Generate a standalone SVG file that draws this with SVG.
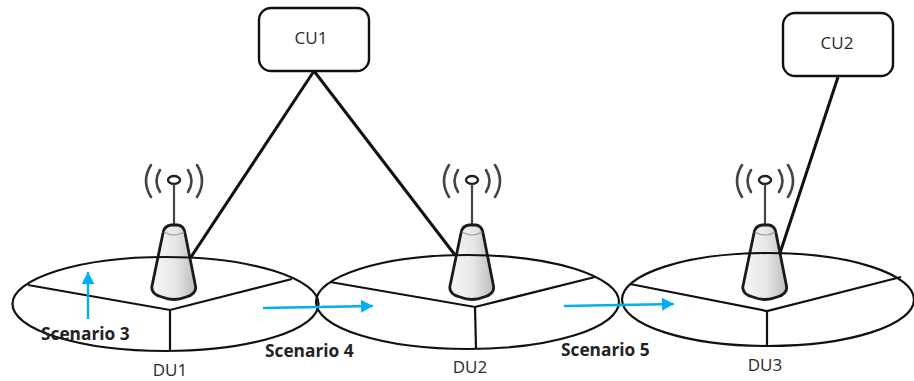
<svg xmlns="http://www.w3.org/2000/svg" width="914" height="381" viewBox="0 0 914 381">
<style>
.box{fill:#fff;stroke:#111;stroke-width:2.4}
.cell{fill:none;stroke:#111;stroke-width:2.2}
.link{fill:none;stroke:#111;stroke-width:3}
.flow{fill:none;stroke:#00b0f0;stroke-width:2.4;marker-end:url(#ah)}
.lab{font-family:"Open Sans","Liberation Sans",sans-serif;font-size:17px;fill:#2a2a2a;text-anchor:middle}
.sc{font-family:"Open Sans","Liberation Sans",sans-serif;font-size:17.300px;font-weight:700;fill:#222}
.wave{fill:none;stroke:#444;stroke-width:2.6;stroke-linecap:round}
</style>
<defs>
<linearGradient id="g" x1="0" x2="1" y1="0" y2="0"><stop offset="0" stop-color="#f6f6f6"/><stop offset=".55" stop-color="#e6e6e6"/><stop offset="1" stop-color="#bcbcbc"/></linearGradient>
<marker id="ah" markerUnits="userSpaceOnUse" markerWidth="13" markerHeight="14" refX="12" refY="6.500" orient="auto"><path d="M0 0L12 6.500L0 13Z" fill="#00b0f0"/></marker>
<g id="tower">
<path class="wave" d="M-14 -26Q-21 -15 -14 -4M-23 -31Q-33 -15 -23 1M14 -26Q21 -15 14 -4M23 -31Q33 -15 23 1"/>
<ellipse cx="0" cy="-16" rx="6" ry="4" fill="#fff" stroke="#222" stroke-width="2.400"/>
<path d="M0 -12V29" stroke="#444" stroke-width="2.200" fill="none"/>
<path d="M-11 37Q-10 30 -3 29H4Q10 30 11 37L21.500 90Q23 98 12 101Q0 106 -12 101Q-23.500 98 -22 90Z" fill="url(#g)" stroke="#1a1a1a" stroke-width="2.800"/>
<path d="M-10 36Q0 42 10 36" fill="none" stroke="#999" stroke-width="1.200"/>
</g>
</defs>
<rect width="914" height="381" fill="#fff"/>
<g id="connectors">
<path class="link" d="M314 71L191 257"/>
<path class="link" d="M314 71L455 255"/>
<path class="link" d="M838 77L780 253"/>
</g>
<g id="DU1">
<use href="#tower" x="174" y="196"/>
<ellipse class="cell" cx="165.500" cy="304" rx="153" ry="47"/>
<path class="cell" d="M28 285L170 310L292 279M170 310V351"/>
<text class="lab" x="170" y="376">DU1</text>
</g>
<g id="DU2">
<use href="#tower" x="472" y="196"/>
<ellipse class="cell" cx="467.500" cy="302" rx="151.500" ry="47"/>
<path class="cell" d="M330 282L475 307L595 277M475 307L476 348"/>
<text class="lab" x="470" y="373">DU2</text>
</g>
<g id="DU3">
<use href="#tower" x="765" y="196"/>
<ellipse class="cell" cx="768" cy="299.500" rx="146" ry="46.500"/>
<path class="cell" d="M630 284L767 311L901 277M767 311V345"/>
<text class="lab" x="765" y="371">DU3</text>
</g>
<g id="CU1">
<rect class="box" x="259" y="8" width="110" height="63" rx="12"/>
<text class="lab" x="311" y="44">CU1</text>
</g>
<g id="CU2">
<rect class="box" x="783" y="13" width="110" height="63" rx="12"/>
<text class="lab" x="837" y="49">CU2</text>
</g>
<g id="scenario3">
<path class="flow" d="M88 319V272"/>
<text class="sc" x="41" y="340">Scenario 3</text>
</g>
<g id="scenario4">
<path class="flow" d="M263 308L373 306"/>
<text class="sc" x="265" y="357">Scenario 4</text>
</g>
<g id="scenario5">
<path class="flow" d="M564 306L674 304"/>
<text class="sc" x="561" y="356">Scenario 5</text>
</g>
</svg>
